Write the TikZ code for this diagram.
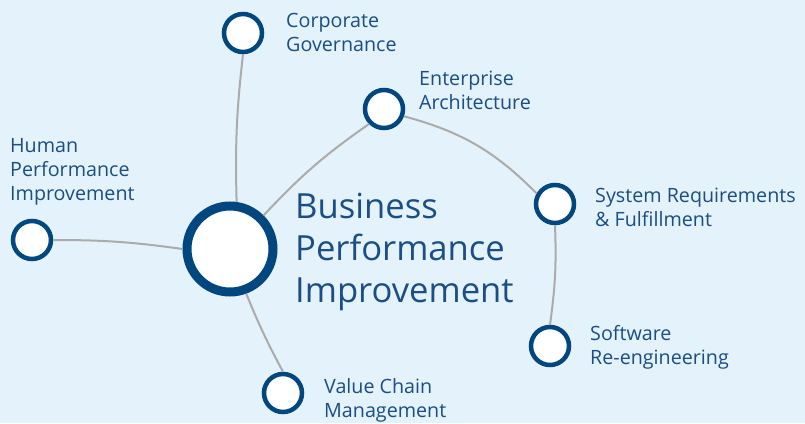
\documentclass[tikz,border=0pt]{standalone}
\usepackage{fontspec}
\setmainfont{Open Sans}
\definecolor{bgc}{HTML}{E4F2FB}
\definecolor{ring}{HTML}{00467F}
\definecolor{txt}{HTML}{1A4E85}
\definecolor{conn}{HTML}{ABABAB}
\tikzset{
  hub/.style={circle, draw=ring, fill=white, line width=9pt, minimum size=86pt, inner sep=0pt},
  leaf/.style={circle, draw=ring, fill=white, line width=4.5pt, minimum size=38pt, inner sep=0pt},
  lbl/.style={anchor=west, align=left, text=txt, inner sep=0pt, font=\fontsize{19.7}{24}\selectfont},
  biglbl/.style={anchor=west, align=left, text=txt, inner sep=0pt, font=\fontsize{34.6}{42}\selectfont},
  link/.style={draw=conn, line width=2pt}
}
\begin{document}
\begin{tikzpicture}[x=1pt,y=-1pt]
\fill[bgc] (0,0) rectangle (805,423);
\useasboundingbox (0,0) rectangle (805,423);
% circles
\node[hub] (main) at (230,249) {};
\node[leaf] (corp) at (243,33) {};
\node[leaf] (ent) at (384,109) {};
\node[leaf] (sys) at (555,204) {};
\node[leaf] (soft) at (550,346) {};
\node[leaf] (hum) at (32,240) {};
\node[leaf] (val) at (283,393) {};
% connectors
\draw[link] (main.82) to[bend left=4] (corp.south);
\draw[link] (main.45) to[bend left=6] (ent.225);
\draw[link] (ent.-20) to[bend left=15] (sys.150);
\draw[link] (sys.south) to[bend left=5] (soft.north);
\draw[link] (hum.east) to[bend left=4] (main.west);
\draw[link] (main.-70) to[bend right=3] (val.north);
% labels
\node[lbl] (tcorp) at (286,32) {Corporate\\Governance};
\node[lbl] (tent) at (419,90) {Enterprise\\Architecture};
\node[lbl] (tsys) at (595,207) {System Requirements\\\& Fulfillment};
\node[lbl] (tsoft) at (590,347) {Software\\Re-engineering};
\node[lbl] (tval) at (324,400) {Value Chain\\Management};
\node[lbl] (thum) at (10,172) {Human\\Performance\\Improvement};
\node[biglbl] (tmain) at (295,252) {Business\\Performance\\Improvement};
\end{tikzpicture}
\end{document}
